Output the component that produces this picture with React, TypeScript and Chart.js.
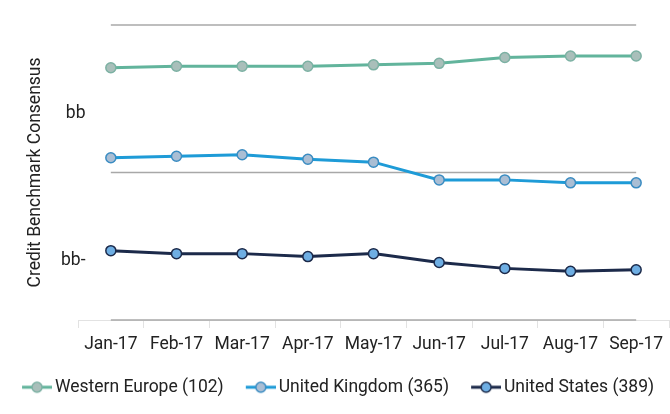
import { useEffect, useRef } from "react";
import { Chart, registerables } from "chart.js";
Chart.register(...registerables);

const months = ["Jan-17", "Feb-17", "Mar-17", "Apr-17", "May-17", "Jun-17", "Jul-17", "Aug-17", "Sep-17"];
const westernEurope = [12.31, 12.32, 12.32, 12.32, 12.33, 12.34, 12.38, 12.39, 12.39];
const unitedKingdom = [11.7, 11.71, 11.72, 11.69, 11.67, 11.55, 11.55, 11.53, 11.53];
const unitedStates = [11.07, 11.05, 11.05, 11.03, 11.05, 10.99, 10.95, 10.93, 10.94];
const seriesNames = ["Western Europe (102)", "United Kingdom (365)", "United States (389)"];
const ratingTickValues = [11, 12];
const ratingTickLabels = ["bb-", "bb"];
const gridLevels = [10.6, 11.6, 12.6];

const styles = [
  { line: "#62b49c", fill: "#a9bfba", border: "#7cb1a3" },
  { line: "#1e9bd7", fill: "#aabed4", border: "#3a8cc2" },
  { line: "#1c2a4a", fill: "#6eaee3", border: "#1c2a4a" },
];

const FONT = { family: "Roboto", size: 17.5 };

function makeMarker(line: string, fill: string, border: string) {
  const c = document.createElement("canvas");
  c.width = 46;
  c.height = 14;
  const ctx = c.getContext("2d")!;
  ctx.strokeStyle = line;
  ctx.lineWidth = 3;
  ctx.beginPath();
  ctx.moveTo(16, 7);
  ctx.lineTo(46, 7);
  ctx.stroke();
  ctx.beginPath();
  ctx.arc(31, 7, 5, 0, Math.PI * 2);
  ctx.fillStyle = fill;
  ctx.fill();
  ctx.lineWidth = 1.5;
  ctx.strokeStyle = border;
  ctx.stroke();
  return c;
}

export default function App() {
  const ref = useRef<HTMLCanvasElement | null>(null);
  useEffect(() => {
    document.body.style.margin = "0";
    if (!ref.current) return;
    const seriesData = [westernEurope, unitedKingdom, unitedStates];
    const markers = styles.map((s) => makeMarker(s.line, s.fill, s.border));
    const datasets: any[] = seriesData.map((d, i) => ({
      label: seriesNames[i],
      data: d,
      borderColor: styles[i].line,
      backgroundColor: styles[i].fill,
      pointBackgroundColor: styles[i].fill,
      pointBorderColor: styles[i].border,
      pointBorderWidth: 1.5,
      pointRadius: 5,
      borderWidth: 3,
      tension: 0,
    }));
    gridLevels.forEach((g) => {
      datasets.push({
        label: "grid",
        data: months.map(() => g),
        borderColor: "#a8a8a8",
        borderWidth: 1.5,
        pointRadius: 0,
        clip: false,
        isGrid: true,
      });
    });
    const chart = new Chart(ref.current, {
      type: "line",
      data: { labels: months, datasets },
      options: {
        animation: false,
        responsive: true,
        maintainAspectRatio: false,
        layout: { autoPadding: false, padding: { top: 25, right: -8, left: -12, bottom: 8 } },
        plugins: {
          tooltip: { enabled: false },
          legend: {
            position: "bottom",
            labels: {
              usePointStyle: true,
              pointStyleWidth: 34.25,
              padding: 12,
              color: "#222",
              font: FONT,
              filter: (item: any, data: any) => !data.datasets[item.datasetIndex].isGrid,
              generateLabels: (ch: any) =>
                ch.data.datasets.map((ds: any, i: number) => ({
                  text: ds.label,
                  datasetIndex: i,
                  pointStyle: markers[i] || "line",
                  fillStyle: "transparent",
                  strokeStyle: "transparent",
                  lineWidth: 0,
                  hidden: false,
                  fontColor: "#222",
                })),
            },
          },
        },
        scales: {
          x: {
            offset: true,
            grid: {
              display: true,
              offset: true,
              drawOnChartArea: false,
              drawTicks: true,
              tickLength: 8,
              color: "#e2e2e2",
            },
            border: { display: true, color: "#e2e2e2" },
            ticks: { color: "#222", font: FONT, padding: 6, maxRotation: 0 },
            afterFit: (scale: any) => {
              scale.height = 46.5;
              scale.paddingLeft = 0;
              scale.paddingRight = 1;
            },
          },
          y: {
            min: 10.6,
            max: 12.6,
            grid: { display: false, drawTicks: false },
            border: { display: false },
            afterBuildTicks: (scale: any) => {
              scale.ticks = ratingTickValues.map((v) => ({ value: v }));
            },
            afterFit: (scale: any) => {
              scale.width = 90;
            },
            ticks: {
              mirror: true,
              crossAlign: "far",
              padding: -17,
              color: "#222",
              font: FONT,
              callback: (v: any) => {
                const idx = ratingTickValues.indexOf(Number(v));
                return idx >= 0 ? ratingTickLabels[idx] : "";
              },
            },
            title: {
              display: true,
              text: "Credit Benchmark Consensus",
              color: "#222",
              font: FONT,
              padding: { top: 37, bottom: 0 },
            },
          },
        },
      },
    });
    return () => chart.destroy();
  }, []);
  return (
    <div style={{ width: 670, height: 414, position: "relative" }}>
      <canvas ref={ref} />
    </div>
  );
}
